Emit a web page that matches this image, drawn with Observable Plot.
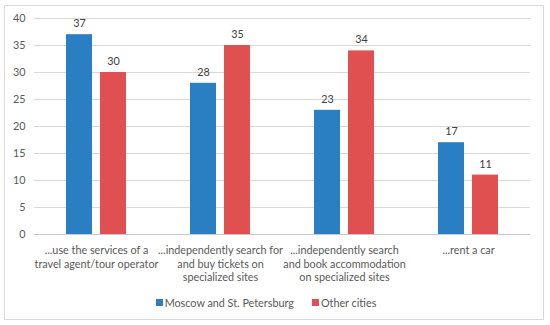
<!DOCTYPE html>
<html><head><meta charset="utf-8">
<script src="https://cdn.jsdelivr.net/npm/d3@7"></script>
<script src="https://cdn.jsdelivr.net/npm/@observablehq/plot@0.6"></script>
<style>
body{margin:0;background:#fff;}
#frame{position:absolute;left:4px;top:5px;width:540px;height:315px;border:1px solid #d9d9d9;box-sizing:border-box;}
#chart{position:absolute;left:0;top:0;}
#legend{position:absolute;left:0;top:292px;width:550px;height:20px;display:flex;justify-content:center;align-items:center;}
.lg-swatches{min-height:0 !important;margin:0 !important;}
.lg-swatch{margin-right:18px !important;}
.lg-swatch > svg{margin-right:2px !important;}
</style></head><body>
<div id="frame"></div>
<div id="chart"></div>
<div id="legend"></div>
<script>
const categories = [
  "...use the services of a\ntravel agent/tour operator",
  "...independently search for\nand buy tickets on\nspecialized sites",
  "...independently search\nand book accommodation\non specialized sites",
  "...rent a car"
];
const series = ["Moscow and St. Petersburg", "Other cities"];
const moscow = [37, 28, 23, 17];
const other = [30, 35, 34, 11];
const yTicks = [0, 5, 10, 15, 20, 25, 30, 35, 40];
const colors = ["#2a7ec2", "#e05050"];

const data = categories.flatMap((c, i) => [
  {category: c, series: series[0], value: moscow[i]},
  {category: c, series: series[1], value: other[i]}
]);

const font = "Lato, 'DejaVu Sans', sans-serif";

const chart = Plot.plot({
  width: 550,
  height: 290,
  marginTop: 18,
  marginBottom: 56,
  marginLeft: 34,
  marginRight: 20,
  style: {fontFamily: font, fontSize: "10.8px", color: "#595959", background: "transparent"},
  fx: {domain: categories, padding: 0, label: null, axis: null},
  x: {domain: series, paddingInner: 0.229, paddingOuter: 0.886, axis: null},
  y: {domain: [0, 40], label: null, axis: null},
  color: {domain: series, range: colors},
  marks: [
    Plot.gridY(yTicks, {stroke: "#d9d9d9", strokeOpacity: 1}),
    Plot.axisY(yTicks, {tickSize: 0, tickPadding: 9, label: null}),
    Plot.ruleY([0], {stroke: "#c8c8c8"}),
    Plot.barY(data, {fx: "category", x: "series", y: "value", fill: "series"}),
    Plot.text(data, {fx: "category", x: "series", y: "value", text: d => String(d.value), dy: -11, fill: "#404040"}),
    Plot.axisFx({anchor: "bottom", tickSize: 0, tickPadding: 10, label: null, lineHeight: 1.26})
  ]
});
document.getElementById("chart").appendChild(chart);

const legend = Plot.legend({
  color: {domain: series, range: colors},
  swatchSize: 7,
  className: "lg",
  style: {fontFamily: font, fontSize: "10.8px", color: "#595959"}
});
document.getElementById("legend").appendChild(legend);
</script>
</body></html>
